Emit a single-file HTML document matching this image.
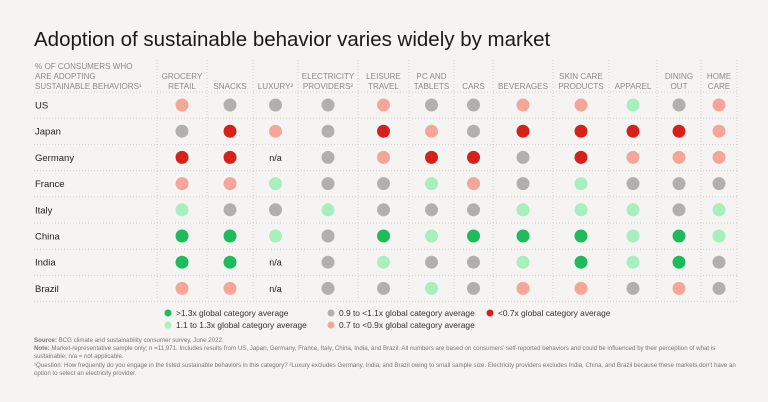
<!DOCTYPE html>
<html><head><meta charset="utf-8"><style>
html,body{margin:0;padding:0;background:#f5f4f2;}
svg{display:block;font-family:"Liberation Sans",sans-serif;}
</style></head><body>
<svg id="chart" width="768" height="402">
<rect width="768" height="402" fill="#f5f4f2"/>
<text x="34" y="46" font-size="20.5" fill="#1a1a1a">Adoption of sustainable behavior varies widely by market</text>
<g fill="#8a8a8a" font-size="8.1">
<text x="35" y="69">% OF CONSUMERS WHO</text>
<text x="35" y="79">ARE ADOPTING</text>
<text x="35" y="89">SUSTAINABLE BEHAVIORS¹</text>
</g>
<g id="grid"></g>
<g id="heads"></g>
<g id="rows"></g>
<g id="dots"></g>
<g font-size="8.4" fill="#333">
<circle cx="168" cy="313" r="3.5" fill="#1dbb5c"/><text x="176" y="316">&gt;1.3x global category average</text>
<circle cx="168" cy="325" r="3.5" fill="#a8efbe"/><text x="176" y="328">1.1 to 1.3x global category average</text>
<circle cx="331" cy="313" r="3.5" fill="#b0b0b0"/><text x="339" y="316">0.9 to &lt;1.1x global category average</text>
<circle cx="331" cy="325" r="3.5" fill="#f5a698"/><text x="339" y="328">0.7 to &lt;0.9x global category average</text>
<circle cx="490" cy="313" r="3.5" fill="#d7201a"/><text x="498" y="316">&lt;0.7x global category average</text>
</g>
<g font-size="6.15" fill="#777">
<text x="34" y="342"><tspan font-weight="bold">Source:</tspan> BCG climate and sustainability consumer survey, June 2022.</text>
<text x="34" y="350"><tspan font-weight="bold">Note:</tspan> Market-representative sample only; n =11,971. Includes results from US, Japan, Germany, France, Italy, China, India, and Brazil. All numbers are based on consumers' self-reported behaviors and could be influenced by their perception of what is</text>
<text x="34" y="358">sustainable; n/a = not applicable.</text>
<text x="34" y="367">¹Question: How frequently do you engage in the listed sustainable behaviors in this category? ²Luxury excludes Germany, India, and Brazil owing to small sample size. Electricity providers excludes India, China, and Brazil because these markets don't have an</text>
<text x="34" y="375">option to select an electricity provider.</text>
</g>
</svg>
<script>
const categories=[["GROCERY","RETAIL"],["SNACKS"],["LUXURY²"],["ELECTRICITY","PROVIDERS²"],["LEISURE","TRAVEL"],["PC AND","TABLETS"],["CARS"],["BEVERAGES"],["SKIN CARE","PRODUCTS"],["APPAREL"],["DINING","OUT"],["HOME","CARE"]];
const markets=["US","Japan","Germany","France","Italy","China","India","Brazil"];
const values=[
"PNNNPNNPPLNP",
"NRPNRPNRRRRP",
"RRXNPRRNRPPP",
"PPLNNLPNLNNN",
"LNNLNNNLLLNL",
"GGLNGLGGGLGL",
"GGXNLNNLGLGN",
"PPXNNLNPPNPN"];
const colors={G:"#1dbb5c",L:"#a8efbe",N:"#b0b0b0",P:"#f5a698",R:"#d7201a"};
const bounds=[157,207,253,298,358,409,454,493,553,609,657,701,737];
const NS="http://www.w3.org/2000/svg";
function mk(t,a,p){const e=document.createElementNS(NS,t);for(const k in a)e.setAttribute(k,a[k]);p.appendChild(e);return e;}
function xc(i){return (bounds[i]+bounds[i+1])/2;}
function yr(j){return 105+j*26.2;}
const grid=document.getElementById('grid'),heads=document.getElementById('heads'),rows=document.getElementById('rows'),dots=document.getElementById('dots');
bounds.forEach((b,i)=>{const l=mk('line',{x1:b,x2:b,y1:60,y2:300,stroke:'#d2d0cc','stroke-width':1,'stroke-dasharray':'1 2'},grid);

});
for(let j=0;j<=markets.length;j++){const y=yr(j)-13;const l=mk('line',{x1:34,x2:737,y1:y,y2:y,stroke:'#d2d0cc','stroke-width':1,'stroke-dasharray':'1 2'},grid);

}
categories.forEach((c,i)=>{c.forEach((s,k)=>{const t=mk('text',{x:xc(i),y:89-(c.length-1-k)*10,'text-anchor':'middle','font-size':8.1,fill:'#8a8a8a'},heads);t.textContent=s;

});});
markets.forEach((m,j)=>{const t=mk('text',{x:35,y:yr(j)+3.5,'font-size':9.5,fill:'#222'},rows);t.textContent=m;


values[j].split('').forEach((v,i)=>{
if(v==='X'){const n=mk('text',{x:xc(i),y:yr(j)+3.5,'text-anchor':'middle','font-size':9,fill:'#222'},dots);n.textContent='n/a';

}
else{const c=mk('circle',{cx:xc(i),cy:yr(j),r:6.5,fill:colors[v]},dots);

}
});});
</script>
</body></html>
